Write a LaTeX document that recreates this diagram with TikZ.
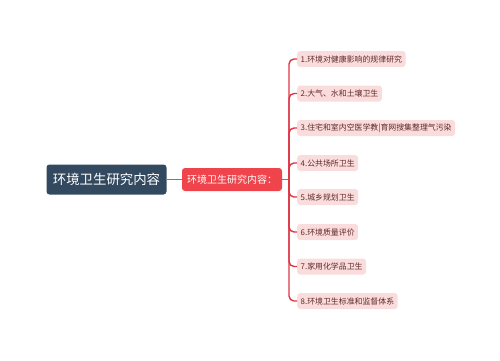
\documentclass[tikz,border=0pt]{standalone}
\usepackage{fontspec}
\setmainfont{Noto Sans CJK SC}
\definecolor{rootc}{HTML}{33495F}
\definecolor{midc}{HTML}{EF444B}
\definecolor{leafc}{HTML}{FBDCDC}
\definecolor{leaftext}{HTML}{5E2A2A}
\definecolor{linec}{HTML}{DD3544}
\definecolor{linkc}{HTML}{C8566A}
\tikzset{
  rootbox/.style={fill=rootc, text=white, rounded corners=3pt, minimum width=120pt, minimum height=30pt, inner sep=0pt, font=\fontsize{13.4pt}{15pt}\selectfont},
  midbox/.style={fill=midc, text=white, rounded corners=3pt, minimum width=100pt, minimum height=23pt, inner sep=0pt, font=\fontsize{10pt}{12pt}\selectfont},
  leafbox/.style={fill=leafc, text=leaftext, rounded corners=3pt, minimum height=16pt, inner xsep=3.5pt, inner ysep=0pt, anchor=west, font=\fontsize{7.9pt}{9pt}\selectfont},
  bracket/.style={draw=linec, line width=1.4pt, rounded corners=5pt},
  link/.style={draw=linkc, line width=1.3pt}
}
\begin{document}
\begin{tikzpicture}[x=1pt,y=-1pt]
\useasboundingbox (0,0) rectangle (500,360);
\node[rootbox] (root) at (106.5,179.5) {环境卫生研究内容};
\node[midbox] (mid) at (232,179.5) {环境卫生研究内容：};
\coordinate (j) at (289,179.5);
\node[leafbox] (l1) at (297,59) {1.环境对健康影响的规律研究};
\node[leafbox] (l2) at (297,93.5) {2.大气、水和土壤卫生};
\node[leafbox] (l3) at (297,128) {3.住宅和室内空医学教|育网搜集整理气污染};
\node[leafbox] (l4) at (297,163) {4.公共场所卫生};
\node[leafbox] (l5) at (297,197) {5.城乡规划卫生};
\node[leafbox] (l6) at (297,232) {6.环境质量评价};
\node[leafbox] (l7) at (297,266.5) {7.家用化学品卫生};
\node[leafbox] (l8) at (297,301) {8.环境卫生标准和监督体系};
\draw[link] (root.east) -- (mid.west);
\draw[link] (mid.east) -- (j);
\foreach \n in {l1,l2,l3,l4,l5,l6,l7,l8} {
  \draw[bracket] (j) |- (\n.west);
}
\end{tikzpicture}
\end{document}
